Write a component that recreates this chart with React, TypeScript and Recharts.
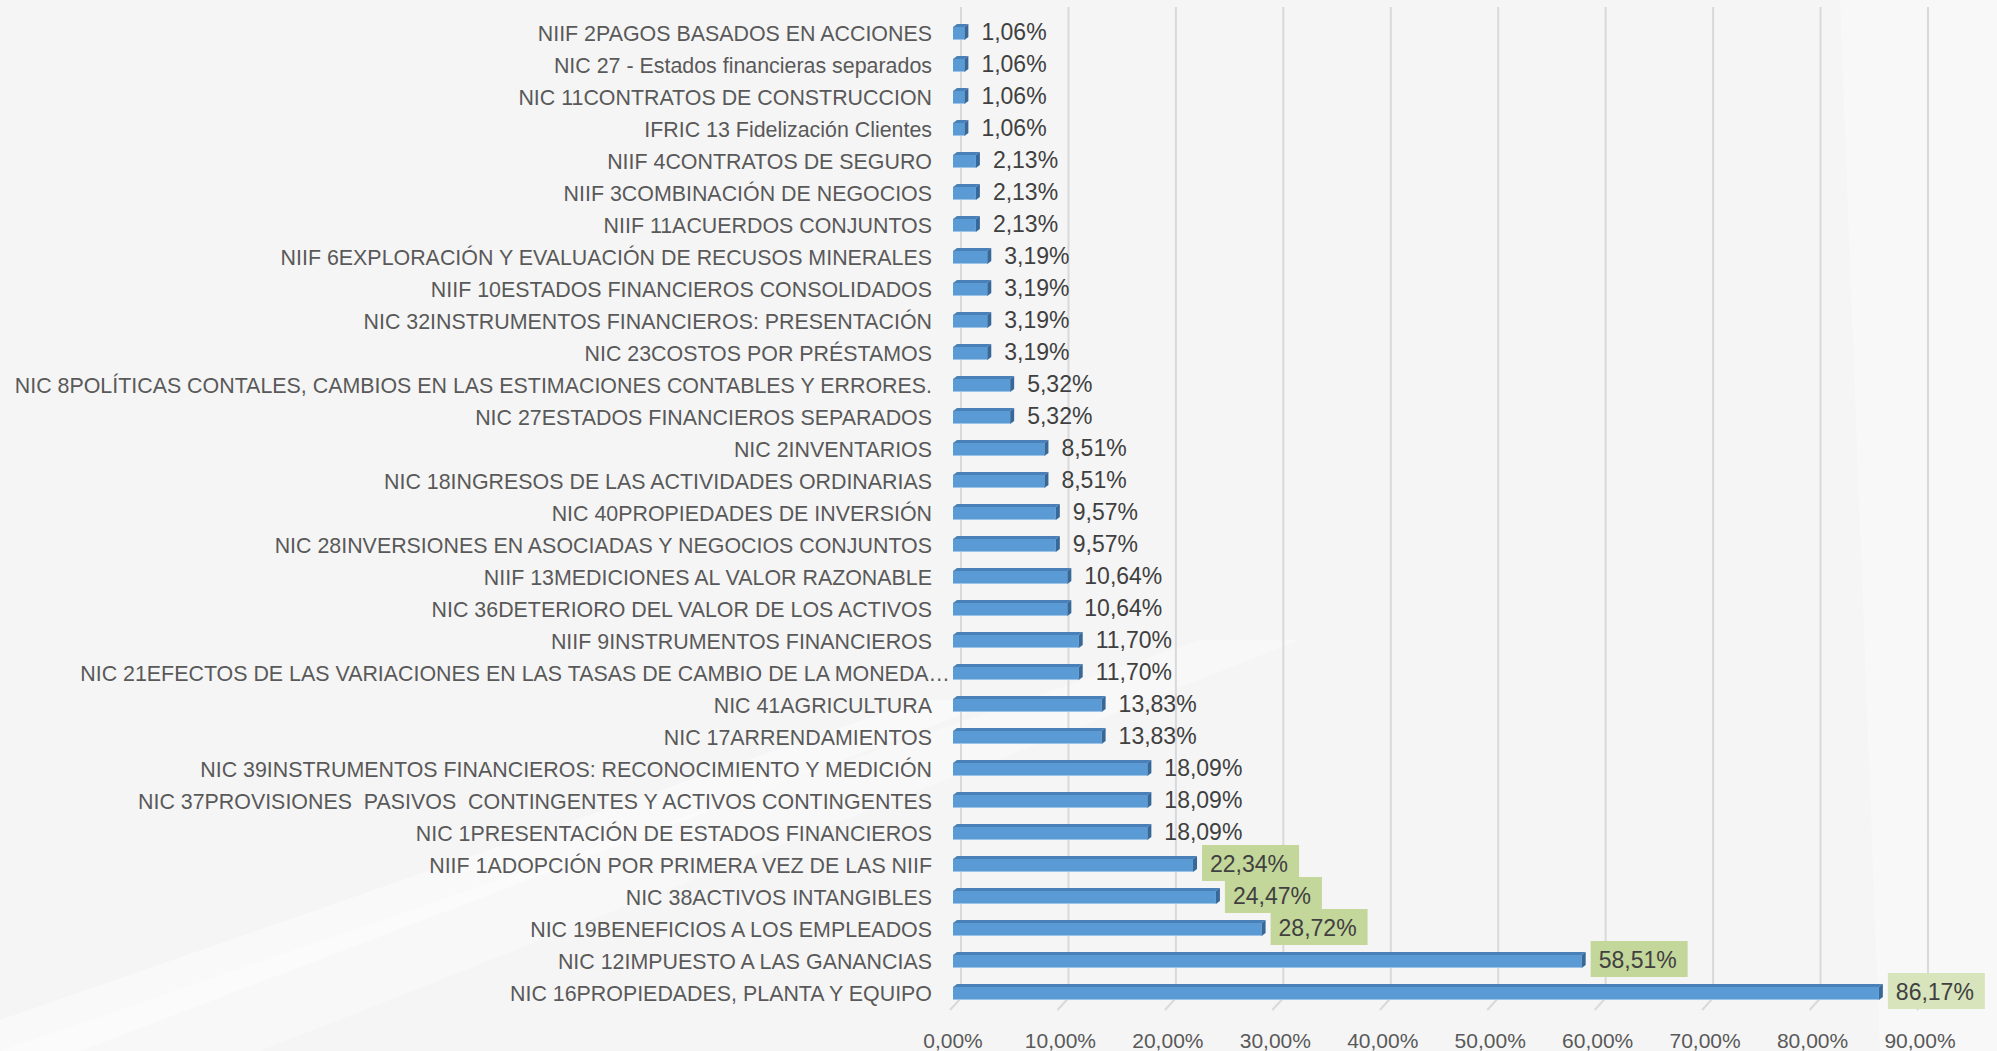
import { Bar, BarChart, CartesianGrid, LabelList, XAxis, YAxis } from "recharts"

// standards, top to bottom as they appear in the chart
const categories = [
  "NIIF 2PAGOS BASADOS EN ACCIONES",
  "NIC 27 - Estados financieras separados",
  "NIC 11CONTRATOS DE CONSTRUCCION",
  "IFRIC 13 Fidelización Clientes",
  "NIIF 4CONTRATOS DE SEGURO",
  "NIIF 3COMBINACIÓN DE NEGOCIOS",
  "NIIF 11ACUERDOS CONJUNTOS",
  "NIIF 6EXPLORACIÓN Y EVALUACIÓN DE RECUSOS MINERALES",
  "NIIF 10ESTADOS FINANCIEROS CONSOLIDADOS",
  "NIC 32INSTRUMENTOS FINANCIEROS: PRESENTACIÓN",
  "NIC 23COSTOS POR PRÉSTAMOS",
  "NIC 8POLÍTICAS CONTALES, CAMBIOS EN LAS ESTIMACIONES CONTABLES Y ERRORES.",
  "NIC 27ESTADOS FINANCIEROS SEPARADOS",
  "NIC 2INVENTARIOS",
  "NIC 18INGRESOS DE LAS ACTIVIDADES ORDINARIAS",
  "NIC 40PROPIEDADES DE INVERSIÓN",
  "NIC 28INVERSIONES EN ASOCIADAS Y NEGOCIOS CONJUNTOS",
  "NIIF 13MEDICIONES AL VALOR RAZONABLE",
  "NIC 36DETERIORO DEL VALOR DE LOS ACTIVOS",
  "NIIF 9INSTRUMENTOS FINANCIEROS",
  "NIC 21EFECTOS DE LAS VARIACIONES EN LAS TASAS DE CAMBIO DE LA MONEDA…",
  "NIC 41AGRICULTURA",
  "NIC 17ARRENDAMIENTOS",
  "NIC 39INSTRUMENTOS FINANCIEROS: RECONOCIMIENTO Y MEDICIÓN",
  "NIC 37PROVISIONES  PASIVOS  CONTINGENTES Y ACTIVOS CONTINGENTES",
  "NIC 1PRESENTACIÓN DE ESTADOS FINANCIEROS",
  "NIIF 1ADOPCIÓN POR PRIMERA VEZ DE LAS NIIF",
  "NIC 38ACTIVOS INTANGIBLES",
  "NIC 19BENEFICIOS A LOS EMPLEADOS",
  "NIC 12IMPUESTO A LAS GANANCIAS",
  "NIC 16PROPIEDADES, PLANTA Y EQUIPO",
]

const values = [
  1.06, 1.06, 1.06, 1.06, 2.13, 2.13, 2.13, 3.19, 3.19, 3.19, 3.19, 5.32, 5.32, 8.51, 8.51, 9.57,
  9.57, 10.64, 10.64, 11.7, 11.7, 13.83, 13.83, 18.09, 18.09, 18.09, 22.34, 24.47, 28.72, 58.51,
  86.17,
]

const xTicks = [0, 10, 20, 30, 40, 50, 60, 70, 80, 90]

const data = categories.map((name, i) => ({ name, value: values[i] }))

const FONT = '"Liberation Sans", Arial, sans-serif'
const TEXT = "#595959"
const GRID = "#d9d9d9"

const pct = (v: number) => v.toFixed(2).replace(".", ",") + "%"

// excel highlights the big ones with a green box, the top one a bit lighter
const boxFill = (v: number) => (v >= 80 ? "#d7e4bc" : v > 20 ? "#c4d79b" : null)

function Bar3D(props: any) {
  const { x, y, width, height } = props
  if (width == null || height == null) return null
  const d = 4
  const t = 3
  const w = Math.max(width, 1)
  const fy = y + t
  const fh = height - t
  return (
    <g>
      <polygon
        points={`${x},${fy} ${x + d},${y} ${x + w + d},${y} ${x + w},${fy}`}
        fill="#4a80b8"
      />
      <rect x={x} y={fy} width={w} height={fh} fill="#5b9bd5" />
      <line x1={x} y1={fy + fh - 0.5} x2={x + w} y2={fy + fh - 0.5} stroke="#9dc3e6" strokeWidth={1} />
      <polygon
        points={`${x + w},${fy} ${x + w + d},${y} ${x + w + d},${y + fh} ${x + w},${fy + fh}`}
        fill="#36689a"
      />
    </g>
  )
}

function ValueLabel(props: any) {
  const { x, y, width, height, value } = props
  const end = x + width
  const cy = y + height / 2
  const fill = boxFill(value)
  return (
    <g>
      {fill && <rect x={end + 9} y={cy - 19} width={97} height={36} fill={fill} />}
      <text x={end + 17} y={cy + 8} fontSize={23} fill="#404040" fontFamily={FONT}>
        {pct(value)}
      </text>
    </g>
  )
}

function CategoryTick(props: any) {
  const { x, y, payload } = props
  const label: string = payload.value
  const cut = label.endsWith("…")
  return (
    <text
      x={cut ? x + 18 : x}
      y={y}
      dy={8.5}
      textAnchor="end"
      fontSize={21.4}
      fill={TEXT}
      fontFamily={FONT}
      xmlSpace="preserve"
      style={{ whiteSpace: "pre" }}
    >
      {label}
    </text>
  )
}

// back-wall gridlines sit a little to the right and above the bars, with a floor stub
function GridLine(p: any) {
  const { x1, y1, y2 } = p
  return (
    <g key={p.key}>
      <line x1={x1 + 8} y1={y1 - 9} x2={x1 + 8} y2={y2 - 10} stroke={GRID} strokeWidth={2} />
      <line x1={x1 + 8} y1={y2 - 10} x2={x1 - 3} y2={y2 + 2} stroke={GRID} strokeWidth={2} />
    </g>
  )
}

export default function App() {
  return (
    <div
      style={{
        position: "absolute",
        left: 0,
        top: 0,
        width: 1997,
        height: 1051,
        background: "#f5f5f5",
        fontFamily: FONT,
        overflow: "hidden",
      }}
    >
      <svg width={1997} height={1051} style={{ position: "absolute", left: 0, top: 0 }}>
        <polygon points="0,1051 260,1051 1300,640 1200,640" fill="#ffffff" opacity={0.35} />
        <polygon points="0,1020 0,1051 80,1051 1000,700 920,700" fill="#ffffff" opacity={0.45} />
        <polygon points="1840,0 1997,0 1997,1051 1880,1051" fill="#ffffff" opacity={0.35} />
      </svg>
      <div style={{ position: "absolute", left: 0, top: 0 }}>
        <BarChart
          width={1997}
          height={1051}
          data={data}
          layout="vertical"
          margin={{ top: 16, right: 77, bottom: 0, left: 0 }}
          barSize={16}
        >
          <CartesianGrid horizontal={false} vertical={GridLine} />
          <XAxis
            type="number"
            domain={[0, 90]}
            ticks={xTicks}
            interval={0}
            tickFormatter={pct}
            axisLine={false}
            tickLine={false}
            tickSize={0}
            tickMargin={25}
            height={43}
            tick={{ fontSize: 21, fill: TEXT, fontFamily: FONT }}
          />
          <YAxis
            type="category"
            dataKey="name"
            width={953}
            interval={0}
            axisLine={false}
            tickLine={false}
            tickSize={0}
            tickMargin={21}
            tick={CategoryTick}
          />
          <Bar dataKey="value" isAnimationActive={false} shape={Bar3D}>
            <LabelList dataKey="value" content={ValueLabel} />
          </Bar>
        </BarChart>
      </div>
    </div>
  )
}
